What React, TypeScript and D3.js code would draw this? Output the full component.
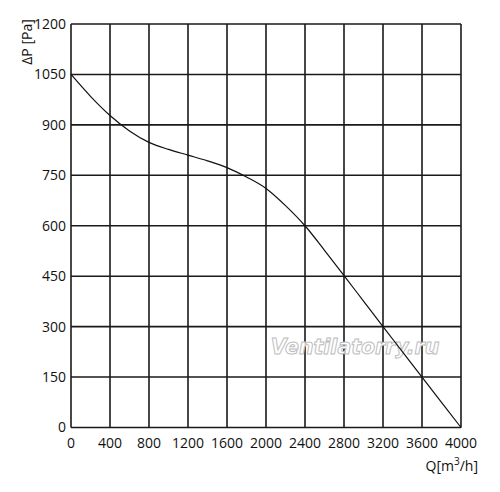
import { useEffect, useRef } from "react";
import * as d3 from "d3";

// curve
const flowQ = [0, 200, 400, 600, 800, 1000, 1200, 1400, 1600, 1800, 2000, 2200, 2400, 2600, 2800, 3000, 3200, 3400, 3600, 3800, 4000];
const pressure = [1050, 985, 928, 882, 848, 827, 810, 793, 773, 745, 711, 660, 600, 527, 452, 376, 300, 225, 150, 75, 0];

const xTicks = [0, 400, 800, 1200, 1600, 2000, 2400, 2800, 3200, 3600, 4000];
const yTicks = [0, 150, 300, 450, 600, 750, 900, 1050, 1200];

const App = () => {
  const svgRef = useRef<SVGSVGElement>(null);

  useEffect(() => {
    if (!svgRef.current) return;
    const width = 500;
    const height = 492;
    const left = 71, right = 461, top = 24, bottom = 427.5;
    const fs = 14;

    const svg = d3.select(svgRef.current);
    svg.selectAll("*").remove();
    svg.attr("width", width).attr("height", height)
      .style("font-family", "'Open Sans', sans-serif");

    svg.append("rect").attr("width", width).attr("height", height).attr("fill", "#fff");

    const x = d3.scaleLinear().domain([0, 4000]).range([left, right]);
    const y = d3.scaleLinear().domain([0, 1200]).range([bottom, top]);

    // grid
    const grid = svg.append("g").attr("stroke", "#1a1a1a").attr("stroke-width", 1.6);
    grid.selectAll("line.v").data(xTicks).join("line")
      .attr("x1", (d) => x(d)).attr("x2", (d) => x(d))
      .attr("y1", top).attr("y2", bottom);
    grid.selectAll("line.h").data(yTicks).join("line")
      .attr("class", "h")
      .attr("x1", left).attr("x2", right)
      .attr("y1", (d) => y(d)).attr("y2", (d) => y(d));

    // watermark
    svg.append("text")
      .attr("x", 355).attr("y", 354)
      .attr("text-anchor", "middle")
      .attr("font-size", 20.5)
      .attr("font-style", "italic")
      .attr("font-weight", "bold")
      .attr("font-family", "'DejaVu Sans', sans-serif")
      .attr("fill", "#fff")
      .attr("stroke", "#bdbdbd")
      .attr("stroke-width", 1)
      .text("Ventilatorry.ru");

    // curve
    const line = d3.line<number>()
      .x((d, i) => x(flowQ[i]))
      .y((d) => y(d))
      .curve(d3.curveMonotoneX);
    svg.append("path")
      .attr("d", line(pressure))
      .attr("fill", "none")
      .attr("stroke", "#111")
      .attr("stroke-width", 1.2);

    // tick labels
    svg.append("g").selectAll("text").data(yTicks).join("text")
      .attr("x", 66).attr("y", (d) => y(d)).attr("dy", "0.35em")
      .attr("text-anchor", "end").attr("font-size", fs).attr("fill", "#111")
      .text((d) => d);
    svg.append("g").selectAll("text").data(xTicks).join("text")
      .attr("x", (d) => x(d)).attr("y", 448)
      .attr("text-anchor", "middle").attr("font-size", fs).attr("fill", "#111")
      .text((d) => d);

    // axis titles
    svg.append("text")
      .attr("transform", "translate(32,42) rotate(-90)")
      .attr("text-anchor", "middle").attr("font-size", fs).attr("fill", "#111")
      .text("ΔP [Pa]");
    const q = svg.append("text")
      .attr("x", 478).attr("y", 471)
      .attr("text-anchor", "end").attr("font-size", fs).attr("fill", "#111");
    q.append("tspan").text("Q[m");
    q.append("tspan").attr("dy", -6).attr("font-size", 10).text("3");
    q.append("tspan").attr("dy", 6).text("/h]");
  }, []);

  return (
    <div style={{ position: "absolute", left: 0, top: 0 }}>
      <svg ref={svgRef}></svg>
    </div>
  );
};

export default App;
